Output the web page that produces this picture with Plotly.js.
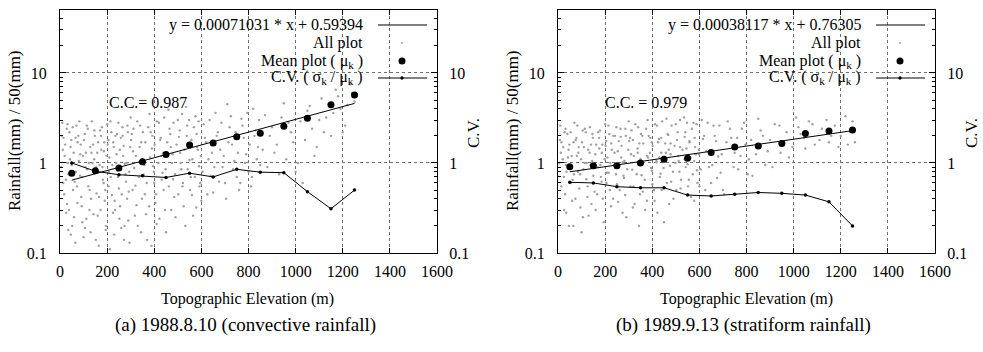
<!DOCTYPE html>
<html><head><meta charset="utf-8">
<script src="https://cdn.plot.ly/plotly-3.0.1.min.js"></script>
<style>html,body{margin:0;padding:0;background:#fff;}#chart{width:983px;height:352px;}</style>
</head><body><div id="chart"></div>
<script>
// ---------- data ----------
const elevation = [50,150,250,350,450,550,650,750,850,950,1050,1150,1250];
const meanA = [0.77,0.82,0.88,1.03,1.24,1.58,1.67,1.96,2.14,2.56,3.14,4.44,5.7];
const cvA   = [1.0,0.81,0.74,0.72,0.69,0.77,0.70,0.85,0.79,0.78,0.48,0.31,0.50];
const meanB = [0.91,0.93,0.93,1.0,1.10,1.13,1.31,1.50,1.54,1.64,2.13,2.27,2.33];
const cvB   = [0.61,0.60,0.545,0.53,0.53,0.44,0.43,0.45,0.47,0.46,0.44,0.37,0.20];
// printed regression: y = b * 10^(a*x)
const fitCoefA = [0.00071031, 0.59394];
const fitCoefB = [0.00038117, 0.76305];
const fitRangeX = [50, 1250];
const fitLabelA = 'y = 0.00071031 * x + 0.59394';
const fitLabelB = 'y = 0.00038117 * x + 0.76305';
const ccLabelA = 'C.C.= 0.987';
const ccLabelB = 'C.C. = 0.979';
const subtitleA = '(a) 1988.8.10 (convective rainfall)';
const subtitleB = '(b) 1989.9.13 (stratiform rainfall)';
const xTitle = 'Topographic Elevation (m)';
const yTitle = 'Rainfall(mm) / 50(mm)';
const y2Title = 'C.V.';
const legendNames = ['All plot','Mean plot ( μ<sub>k</sub> )','C.V. ( σ<sub>k</sub> / μ<sub>k</sub> )'];
const yTickVals = [0.1, 1, 10];
const yTickText = ['0.1', '1', '10'];
const yMinorVals = [0.2,0.3,0.4,0.5,0.6,0.7,0.8,0.9,2,3,4,5,6,7,8,9,20,30,40];

const allPlotA = [
[10,2.8],[15,1.9],[20,1.2],[25,0.65],[30,0.35],[35,0.18],[40,2.2],[45,1.5],[50,0.95],[55,0.5],[60,0.25],[65,0.13],
[70,2.6],[75,1.7],[80,1.05],[85,0.72],[90,0.42],[95,0.22],[100,0.15],[105,2.1],[110,1.3],[115,0.85],[120,0.55],[125,0.3],
[130,0.17],[135,2.9],[140,1.6],[145,1.1],[150,0.78],[155,0.46],[160,0.26],[165,0.12],[170,2.3],[175,1.4],[180,0.9],[185,0.6],
[190,0.38],[195,0.2],[200,2.7],[205,1.8],[210,1.15],[215,0.7],[220,0.44],[225,0.28],[230,0.16],[235,2.0],[240,1.25],[245,0.82],
[250,0.52],[255,0.33],[260,0.19],[265,2.5],[270,1.55],[275,0.98],[280,0.62],[285,0.4],[290,0.23],[295,0.13],
[300,3.2],[305,2.1],[310,1.35],[315,0.88],[320,0.56],[325,0.34],[330,0.2],[340,2.6],[345,1.7],[350,1.1],[355,0.74],[360,0.45],
[365,0.27],[370,0.14],[380,3.5],[385,2.2],[390,1.45],[395,0.92],[400,0.6],[405,0.36],[410,0.21],[420,2.8],[425,1.8],[430,1.2],
[435,0.78],[440,0.5],[445,0.3],[450,0.17],[460,3.9],[465,2.4],[470,1.5],[475,1.0],[480,0.66],[485,0.42],[490,0.25],[500,3.0],
[505,1.95],[510,1.3],[515,0.85],[520,0.55],[525,0.33],[535,4.2],[540,2.6],[545,1.65],[550,1.08],[555,0.7],[560,0.44],[565,0.26],
[575,3.3],[580,2.1],[585,1.4],[590,0.92],[595,0.6],[600,0.38],
[610,2.7],[620,1.7],[630,1.1],[640,0.72],[650,0.47],[660,3.6],[670,2.2],[680,1.4],[690,0.9],[700,0.6],[710,4.5],[720,2.5],
[730,1.6],[740,1.05],[750,0.7],[760,0.5],[770,3.1],[780,1.9],[790,1.25],[800,0.8],[810,0.55],[820,4.0],[830,2.3],[840,1.5],[850,0.95],
[870,3.4],[890,2.0],[910,1.3],[930,0.75],[950,4.6],[970,2.8],[990,1.7],[1010,1.0],[1030,0.6],[1050,3.8],[1070,2.4],[1090,1.5],
[1110,5.2],[1130,3.2],[1150,2.0],[1170,6.5],[1190,4.0],[1210,2.6],[1230,7.5],[1250,4.8],
[12,1.4],[28,2.4],[33,1.0],[48,1.8],[58,1.3],[68,0.8],[78,2.0],[88,1.6],[98,1.2],[108,0.9],[118,2.4],[128,1.5],[138,1.0],
[148,2.0],[158,1.3],[168,0.95],[178,2.5],[188,1.7],[198,1.2],[208,0.8],[218,2.2],[228,1.5],[238,1.0],[248,2.8],[258,1.9],
[268,1.2],[278,0.75],[288,2.2],[298,1.5],[18,0.45],[38,0.3],[52,0.2],[72,0.55],[92,0.33],[112,0.24],[132,0.4],[152,0.14],
[172,0.3],[192,0.5],[212,0.11],[232,0.38],[252,0.24],[272,0.14],[292,0.48],
[5,0.9],[8,2.0],[14,0.6],[22,1.6],[26,0.28],[32,2.7],[36,0.75],[42,1.1],[46,0.16],[54,2.5],[62,0.62],[66,1.9],[74,0.36],
[82,2.9],[86,1.25],[94,0.7],[102,1.8],[106,0.19],[114,2.6],[122,1.0],[126,0.5],[134,1.3],[142,0.27],[146,2.3],[154,0.9],
[162,1.7],[166,0.42],[174,2.0],[182,0.65],[186,1.35],[194,0.18],[202,1.6],[206,0.55],[214,2.9],[222,0.95],[226,1.7],[234,0.3],
[242,2.1],[246,0.7],[254,1.4],[262,0.45],[266,2.0],[274,0.2],[282,1.0],[286,2.6],[294,0.8],[302,1.8],[308,0.5],[312,2.4],
[318,0.26],[322,1.2],[328,2.9],[334,0.7],[338,1.5],[344,0.17],[348,0.4],[352,2.2],[358,0.95],[362,1.7],[368,0.6],[374,2.5],
[378,0.33],[382,1.15],[388,0.12],[392,2.0],[398,0.8],[402,1.6],[408,0.45],[412,2.9],[418,1.0],[422,0.24],[428,1.9],[432,0.65],
[438,1.3],[442,3.2],[448,0.85],[455,1.7],[462,0.55],[468,2.1],[472,0.3],[478,1.25],[482,2.8],[488,0.75],[495,1.6],[502,0.45],
[508,2.3],[512,1.0],[518,3.5],[522,0.6],[528,1.4],[532,0.2],[538,2.0],[542,0.85],[548,3.0],[552,0.5],[558,1.8],[562,1.1],
[568,2.5],[572,0.7],[578,0.32],[582,1.5],[588,2.9],[592,0.55],[598,1.2],[605,0.8],[615,1.9],[625,0.45],[635,3.0],[645,1.3],
[655,0.9],[665,2.0],[675,0.62],[685,2.8],[695,1.2],[705,0.4],[715,1.7],[725,3.3],[735,0.85],[745,2.2],[755,1.3],[765,0.6],
[775,2.6],[785,1.0],[795,3.6],[805,1.6],[815,0.7],[825,2.0],[835,1.1],[845,3.0],[860,1.4],[880,0.9],[900,2.5],[920,1.6],
[940,3.2],[960,1.1],[980,2.2],[1000,0.8],[1020,2.9],[1040,1.8],[1060,4.3],[1080,1.2],[1100,3.0],[1120,2.2],[1140,4.5],
[1160,3.6],[1180,5.5],[1200,2.2],[1220,4.4],[1240,6.0]
];
const allPlotB = [
[10,2.6],[15,1.7],[20,1.1],[25,0.7],[30,0.45],[35,0.28],[40,2.1],[45,1.4],[50,0.9],[55,0.6],[60,0.38],[65,0.2],[70,2.8],
[75,1.8],[80,1.2],[85,0.8],[90,0.52],[95,0.32],[100,0.17],[105,2.3],[110,1.5],[115,1.0],[120,0.66],[125,0.42],[130,0.26],
[135,2.5],[140,1.6],[145,1.05],[150,0.72],[155,0.48],[160,0.3],[170,2.2],[175,1.45],[180,0.95],[185,0.62],[190,0.4],[200,2.7],
[205,1.75],[210,1.15],[215,0.78],[220,0.5],[225,0.33],[235,2.0],[240,1.3],[245,0.88],[250,0.58],[255,0.37],[265,2.4],[270,1.55],
[275,1.02],[280,0.68],[285,0.44],[290,0.25],
[300,2.9],[305,1.9],[310,1.25],[315,0.84],[320,0.55],[325,0.35],[340,2.5],[345,1.65],[350,1.1],[355,0.73],[360,0.48],[370,0.3],
[380,3.0],[385,2.0],[390,1.3],[395,0.88],[400,0.58],[410,0.38],[420,2.6],[425,1.7],[430,1.15],[435,0.76],[440,0.5],[450,0.22],
[460,3.1],[465,2.1],[470,1.4],[475,0.93],[480,0.62],[490,0.4],[500,2.7],[505,1.8],[510,1.2],[515,0.8],[520,0.52],[535,3.2],
[540,2.2],[545,1.45],[550,0.97],[555,0.65],[565,0.42],[575,2.8],[580,1.9],[585,1.25],[590,0.83],[600,0.55],
[610,3.0],[620,2.0],[630,1.35],[640,0.9],[650,0.6],[660,2.6],[670,1.75],[680,1.18],[690,0.78],[700,0.5],[720,2.9],[735,1.9],
[750,1.3],[765,0.85],[780,2.4],[795,1.6],[810,1.1],[825,0.72],[850,3.1],[870,2.0],[890,1.35],[910,0.9],[940,2.6],[960,1.7],
[980,1.15],[1010,3.2],[1030,2.1],[1050,1.45],[1080,2.7],[1110,1.8],[1140,3.0],[1160,2.0],[1190,1.5],[1220,3.3],[1240,2.2],[1260,1.7],
[12,1.3],[28,2.2],[33,0.95],[48,1.6],[58,1.2],[68,0.75],[78,1.9],[88,1.5],[98,1.1],[108,0.85],[118,2.2],[128,1.4],[138,0.95],
[148,1.9],[158,1.25],[168,0.9],[178,2.3],[188,1.6],[198,1.1],[208,0.78],[218,2.1],[228,1.4],[238,0.95],[248,2.5],[258,1.75],
[268,1.15],[278,0.72],[288,2.0],[298,1.4],[318,1.8],[338,1.3],[358,2.0],[378,1.2],[398,1.7],[418,1.05],[438,1.9],[458,1.3],
[478,1.65],[498,1.0],[518,1.5],[538,1.1],[558,1.7],[578,1.05],[598,1.4],
[5,1.0],[8,1.8],[14,0.55],[22,1.5],[26,0.3],[32,2.4],[36,0.8],[42,1.15],[46,0.2],[54,2.2],[62,0.65],[66,1.7],[74,0.4],
[82,2.6],[86,1.3],[94,0.75],[102,1.7],[106,0.25],[114,2.4],[122,1.0],[126,0.55],[134,1.3],[142,0.35],[146,2.1],[154,0.95],
[162,1.6],[166,0.45],[174,1.9],[182,0.7],[186,1.3],[194,0.22],[202,1.55],[206,0.6],[214,2.6],[222,1.0],[226,1.65],[234,0.4],
[242,2.0],[246,0.75],[254,1.35],[262,0.5],[266,1.95],[274,0.28],[282,1.05],[286,2.4],[294,0.85],[302,1.75],[308,0.55],[312,2.3],
[318,0.32],[322,1.2],[328,2.7],[334,0.75],[338,1.45],[344,0.2],[348,0.45],[352,2.1],[358,0.98],[362,1.65],[368,0.65],[374,2.4],
[378,0.38],[382,1.15],[392,1.9],[398,0.82],[402,1.55],[408,0.5],[412,2.7],[418,1.02],[422,0.28],[428,1.85],[432,0.7],[438,1.3],
[442,2.9],[448,0.88],[455,1.65],[462,0.6],[468,2.05],[472,0.35],[478,1.25],[482,2.6],[488,0.8],[495,1.55],[502,0.5],[508,2.2],
[512,1.05],[518,3.0],[522,0.65],[528,1.4],[538,1.95],[542,0.9],[548,2.8],[552,0.55],[558,1.75],[562,1.15],[568,2.4],[572,0.75],
[578,0.38],[582,1.5],[588,2.7],[592,0.6],[598,1.25],[605,0.85],[615,1.85],[625,0.5],[635,2.8],[645,1.35],[655,0.95],[665,2.0],
[675,0.68],[685,2.6],[695,1.25],[705,0.45],[715,1.7],[730,2.4],[745,0.9],[760,1.9],[775,1.2],[790,2.8],[805,0.75],[820,1.8],
[840,1.25],[860,2.3],[880,0.95],[900,1.8],[920,2.7],[945,1.3],[970,2.2],[995,1.5],[1020,2.5],[1045,1.9],[1065,2.9],[1090,1.6],
[1120,2.4],[1150,1.7],[1175,2.6],[1200,2.0],[1230,1.6],[1250,2.9]
];

// ---------- geometry ----------
const W = 983, H = 352;
const px = v => v / W, py = v => 1 - v / H;
const FONT = 'Liberation Serif, serif';
const GRID = '#6e6e6e';

function panelTraces(xa, ya, ya2, pts, mean, cv, coef) {
  return [
    {x: pts.map(p => p[0]), y: pts.map(p => p[1]), xaxis: xa, yaxis: ya, type: 'scatter', mode: 'markers',
     marker: {size: 2.4, color: '#a0a0a0'}, hoverinfo: 'skip'},
    {x: fitRangeX, y: fitRangeX.map(x => coef[1] * Math.pow(10, coef[0] * x)), xaxis: xa, yaxis: ya,
     type: 'scatter', mode: 'lines', line: {color: '#000', width: 1}},
    {x: elevation, y: mean, xaxis: xa, yaxis: ya, type: 'scatter', mode: 'markers',
     marker: {size: 7, color: '#000'}},
    {x: elevation, y: cv, xaxis: xa, yaxis: ya2, type: 'scatter', mode: 'lines+markers',
     line: {color: '#000', width: 1}, marker: {size: 3.5, color: '#000'}}
  ];
}

const data = [
  ...panelTraces('x', 'y', 'y2', allPlotA, meanA, cvA, fitCoefA),
  ...panelTraces('x2', 'y3', 'y4', allPlotB, meanB, cvB, fitCoefB)
];

const yDomain = [py(253), py(10)];
const yRange = [-1, Math.log10(50)];
function xAxis(dom, anchor) {
  return {domain: dom, anchor: anchor, range: [0, 1600], dtick: 200, tick0: 0,
    ticks: 'inside', ticklen: 5, tickcolor: '#000', showline: true, linecolor: '#000', linewidth: 1,
    mirror: 'ticks', showgrid: true, gridcolor: GRID, griddash: 'dot', gridwidth: 1, zeroline: false,
    ticklabelstandoff: 4, tickfont: {family: FONT, size: 16, color: '#000'}};
}
function yAxis(anchor, extra) {
  return Object.assign({domain: yDomain, anchor: anchor, type: 'log', range: yRange,
    tickmode: 'array', tickvals: yTickVals, ticktext: yTickText,
    ticks: 'inside', ticklen: 6, tickcolor: '#000', showline: true, linecolor: '#000', linewidth: 1,
    minor: {tickmode: 'array', tickvals: yMinorVals, ticks: 'inside', ticklen: 3, tickcolor: '#000', showgrid: false},
    showgrid: true, gridcolor: GRID, griddash: 'dot', gridwidth: 1, zeroline: false,
    ticklabelstandoff: 9, tickfont: {family: FONT, size: 16, color: '#000'}}, extra || {});
}

const ann = [];
function addText(text, x, y, size, opts) {
  ann.push(Object.assign({text: text, x: px(x), y: py(y), xref: 'paper', yref: 'paper', showarrow: false,
    xanchor: 'center', yanchor: 'middle', font: {family: FONT, size: size, color: '#000'}}, opts || {}));
}
const shapes = [];
function panelDecor(off, fitLabel, ccLabel, subtitle, ccX) {
  const textRight = 365 + off, sx0 = 378 + off, sx1 = 427 + off, sc = 402 + off;
  const rows = [25, 43, 61, 78];
  addText(fitLabel, textRight, rows[0], 16, {xanchor: 'right'});
  addText(legendNames[0], textRight, rows[1], 16, {xanchor: 'right'});
  addText(legendNames[1], textRight, rows[2], 16, {xanchor: 'right'});
  addText(legendNames[2], textRight, rows[3], 16, {xanchor: 'right'});
  shapes.push({type: 'line', xref: 'paper', yref: 'paper', x0: px(sx0), x1: px(sx1), y0: py(rows[0]), y1: py(rows[0]), line: {color: '#000', width: 1}});
  shapes.push({type: 'circle', xref: 'paper', yref: 'paper', x0: px(sc - 1), x1: px(sc + 1), y0: py(rows[1] + 1), y1: py(rows[1] - 1), fillcolor: '#a0a0a0', line: {width: 0}});
  shapes.push({type: 'circle', xref: 'paper', yref: 'paper', x0: px(sc - 3.5), x1: px(sc + 3.5), y0: py(rows[2] + 3.5), y1: py(rows[2] - 3.5), fillcolor: '#000', line: {width: 0}});
  shapes.push({type: 'line', xref: 'paper', yref: 'paper', x0: px(sx0), x1: px(sx1), y0: py(rows[3]), y1: py(rows[3]), line: {color: '#000', width: 1}});
  shapes.push({type: 'circle', xref: 'paper', yref: 'paper', x0: px(sc - 1.7), x1: px(sc + 1.7), y0: py(rows[3] + 1.7), y1: py(rows[3] - 1.7), fillcolor: '#000', line: {width: 0}});
  addText(ccLabel, ccX, 102, 16, {xanchor: 'left'});
  addText(xTitle, 248 + off, 299, 16);
  addText(subtitle, 245 + off, 325, 19);
  addText(yTitle, 15 + off, 131, 17, {textangle: -90});
  addText(y2Title, 473 + off, 133, 17, {textangle: -90});
}
panelDecor(0, fitLabelA, ccLabelA, subtitleA, 107);
panelDecor(498, fitLabelB, ccLabelB, subtitleB, 603);

const layout = {
  width: W, height: H, margin: {l: 0, r: 0, t: 0, b: 0},
  paper_bgcolor: '#fff', plot_bgcolor: '#fff', showlegend: false,
  font: {family: FONT, size: 16, color: '#000'},
  xaxis: xAxis([px(60), px(437)], 'y'),
  yaxis: yAxis('x'),
  yaxis2: yAxis('x', {overlaying: 'y', side: 'right', showgrid: false, ticklabelstandoff: 8}),
  xaxis2: xAxis([px(558), px(935)], 'y3'),
  yaxis3: yAxis('x2'),
  yaxis4: yAxis('x2', {overlaying: 'y3', side: 'right', showgrid: false, ticklabelstandoff: 8}),
  annotations: ann, shapes: shapes
};
Plotly.newPlot('chart', data, layout, {staticPlot: true, displayModeBar: false});
</script></body></html>
